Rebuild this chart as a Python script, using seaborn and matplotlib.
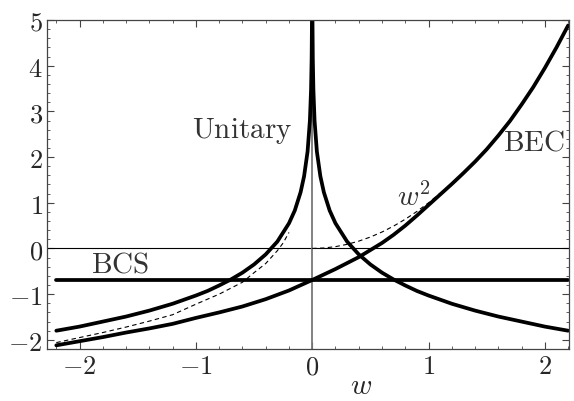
import numpy as np
import pandas as pd
import matplotlib
matplotlib.use("Agg")
import matplotlib.pyplot as plt
import seaborn as sns
from matplotlib.ticker import MultipleLocator

# --------------------------------------------------------
# values
# --------------------------------------------------------
unit_w_right = [0.002, 0.005, 0.01, 0.02, 0.04, 0.07, 0.1, 0.15, 0.2, 0.3, 0.4, 0.5,
                0.6, 0.7, 0.8, 0.9, 1.0, 1.2, 1.4, 1.6, 1.8, 2.0, 2.2]
unit_y_right = [5.06, 4.16, 3.48, 2.80, 2.12, 1.58, 1.23, 0.83, 0.55, 0.15, -0.13, -0.35,
                -0.53, -0.68, -0.81, -0.93, -1.03, -1.21, -1.36, -1.49, -1.60, -1.71, -1.80]
unit_w_left = [-2.2, -2.0, -1.8, -1.6, -1.4, -1.2, -1.0, -0.9, -0.8, -0.7, -0.6, -0.5,
               -0.4, -0.3, -0.2, -0.15, -0.1, -0.07, -0.04, -0.02, -0.01, -0.005, -0.002]
unit_y_left = [-1.80, -1.71, -1.60, -1.49, -1.36, -1.21, -1.03, -0.93, -0.81, -0.68, -0.53, -0.35,
               -0.13, 0.15, 0.55, 0.83, 1.23, 1.58, 2.12, 2.80, 3.48, 4.16, 5.06]

bec_w = [-2.2, -2.0, -1.8, -1.6, -1.4, -1.2, -1.0, -0.8, -0.6, -0.4, -0.2, 0.0,
         0.2, 0.4, 0.6, 0.7, 0.8, 0.9, 1.0, 1.1, 1.2, 1.3, 1.4, 1.5, 1.6, 1.7, 1.8, 1.9,
         2.0, 2.1, 2.2]
bec_y = [-2.12, -2.03, -1.94, -1.84, -1.75, -1.65, -1.52, -1.40, -1.27, -1.11, -0.92, -0.69,
         -0.45, -0.19, 0.12, 0.30, 0.50, 0.72, 0.95, 1.18, 1.41, 1.65, 1.90, 2.17, 2.47, 2.79,
         3.15, 3.53, 3.95, 4.40, 4.88]

bcs_w = [-2.2, 2.2]
bcs_y = [-0.69, -0.69]

dash_w_left = [-2.2, -2.0, -1.8, -1.6, -1.4, -1.2, -1.0, -0.8, -0.6, -0.5, -0.4, -0.3, -0.25, -0.2]
dash_y_left = [-2.06, -1.95, -1.84, -1.72, -1.59, -1.45, -1.22, -1.00, -0.74, -0.53, -0.33, -0.05, 0.12, 0.35]
dash_w_right = [0.0, 0.1, 0.2, 0.3, 0.4, 0.5, 0.6, 0.7, 0.8, 0.9, 1.0, 1.1]
dash_y_right = [0.0, 0.01, 0.04, 0.09, 0.16, 0.25, 0.36, 0.49, 0.64, 0.81, 1.0, 1.21]

labels = {"Unitary": (-0.60, 2.59), "BEC": (1.91, 2.33), "BCS": (-1.65, -0.32)}
w2_pos = (0.87, 1.14)

x_ticks = [-2, -1, 0, 1, 2]
y_ticks = [-2, -1, 0, 1, 2, 3, 4, 5]

# --------------------------------------------------------
# figure
# --------------------------------------------------------
sns.set_style("ticks")
plt.rcParams["mathtext.fontset"] = "cm"
plt.rcParams["font.family"] = ["DejaVu Serif"]

fig = plt.figure(figsize=(5.74, 4.02), dpi=100)
ax = fig.add_axes([0.0819, 0.1294, 0.9918 - 0.0819, 0.9478 - 0.1294])

ax.axhline(0, color="black", lw=0.8, zorder=1)
ax.axvline(0, color="#777777", lw=1.3, zorder=1)

thick = dict(color="black", lw=2.7, estimator=None, sort=False, legend=False, ax=ax)
sns.lineplot(data=pd.DataFrame({"w": unit_w_left, "y": unit_y_left}), x="w", y="y", **thick)
sns.lineplot(data=pd.DataFrame({"w": unit_w_right, "y": unit_y_right}), x="w", y="y", **thick)
sns.lineplot(data=pd.DataFrame({"w": bec_w, "y": bec_y}), x="w", y="y", **thick)
sns.lineplot(data=pd.DataFrame({"w": bcs_w, "y": bcs_y}), x="w", y="y", **thick)

thin = dict(color="black", lw=0.8, estimator=None, sort=False, legend=False, ax=ax)
sns.lineplot(data=pd.DataFrame({"w": dash_w_left, "y": dash_y_left}), x="w", y="y", **thin)
sns.lineplot(data=pd.DataFrame({"w": dash_w_right, "y": dash_y_right}), x="w", y="y", **thin)
for ln in ax.lines[-2:]:
    ln.set_linestyle((0, (4, 3)))

for txt, (xx, yy) in labels.items():
    ax.text(xx, yy, r"$\mathrm{%s}$" % txt, fontsize=21, ha="center", va="center", color="#333333")
ax.text(w2_pos[0], w2_pos[1], r"$w^2$", fontsize=21, ha="center", va="center", color="#333333")

ax.set_xlim(-2.28, 2.21)
ax.set_ylim(-2.2, 5)
ax.set_xticks(x_ticks)
ax.set_yticks(y_ticks)
ax.set_xticklabels([r"$%d$" % t for t in x_ticks], fontsize=19)
ax.set_yticklabels([r"$%d$" % t for t in y_ticks], fontsize=19)
ax.xaxis.set_minor_locator(MultipleLocator(0.2))
ax.yaxis.set_minor_locator(MultipleLocator(0.2))
ax.tick_params(which="both", direction="in", top=True, right=True, color="#444444")
ax.tick_params(which="major", length=5, width=0.8, pad=3)
ax.tick_params(which="minor", length=2.5, width=0.6)
ax.set_xlabel(r"$w$", fontsize=21)
ax.xaxis.set_label_coords(0.601, -0.11)
ax.xaxis.label.set_va("center")
ax.set_ylabel("")
for sp in ax.spines.values():
    sp.set_color("#444444")
    sp.set_linewidth(0.9)

fig.savefig("out.png", dpi=100)
